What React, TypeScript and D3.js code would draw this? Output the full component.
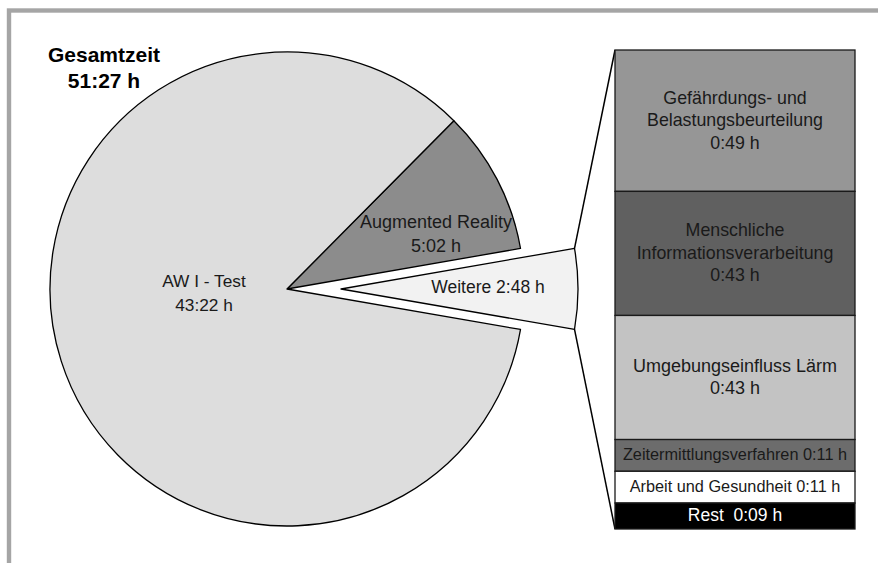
import React from "react";
import * as d3 from "d3";

// main pie (minutes)
const pieLabels = ["Augmented Reality", "Weitere", "AW I - Test"];
const pieMinutes = [302, 168, 2602];
const pieTimes = ["5:02 h", "2:48 h", "43:22 h"];
const pieColors = ["#8c8c8c", "#f2f2f2", "#dddddd"];

// breakdown of "Weitere" (minutes)
const barLabels = [
	["Gefährdungs- und", "Belastungsbeurteilung"],
	["Menschliche", "Informationsverarbeitung"],
	["Umgebungseinfluss Lärm"],
	["Zeitermittlungsverfahren"],
	["Arbeit und Gesundheit"],
	["Rest "],
];
const barMinutes = [49, 43, 43, 11, 11, 9];
const barTimes = ["0:49 h", "0:43 h", "0:43 h", "0:11 h", "0:11 h", "0:09 h"];
const barColors = ["#969696", "#606060", "#c3c3c3", "#6c6c6c", "#ffffff", "#000000"];
const barTextColors = ["#1a1a1a", "#1a1a1a", "#1a1a1a", "#1a1a1a", "#1a1a1a", "#ffffff"];
const barInline = [false, false, false, true, true, true];
const barFontSizes = [17.8, 17.8, 18, 16.3, 16.3, 17.5];

const W = 878;
const H = 563;
const cx = 287;
const cy = 289;
const R = 237;
const explode = 54;
const barX0 = 615;
const barX1 = 855;
const barY0 = 50;
const barY1 = 529;
const font = "'Liberation Sans', Arial, sans-serif";

// label offsets from the pie centre (or exploded centre)
const labelOffsets = [
	{dx: 149, dy: -61},
	{dx: 147, dy: 4},
	{dx: -83, dy: -2},
];

const App: React.FC = () => {
	const startAngle = (44.75 * Math.PI) / 180;
	const pie = d3
		.pie<number>()
		.value((d) => d)
		.sort(null)
		.startAngle(startAngle)
		.endAngle(startAngle + 2 * Math.PI);
	const arcs = pie(pieMinutes);
	const arc = d3.arc<d3.PieArcDatum<number>>().innerRadius(0).outerRadius(R);

	const wArc = arcs[1];
	const mid = (wArc.startAngle + wArc.endAngle) / 2;
	const wx = cx + explode * Math.sin(mid);
	const wy = cy - explode * Math.cos(mid);
	const topPt = [wx + R * Math.sin(wArc.startAngle), wy - R * Math.cos(wArc.startAngle)];
	const botPt = [wx + R * Math.sin(wArc.endAngle), wy - R * Math.cos(wArc.endAngle)];

	const y = d3
		.scaleLinear()
		.domain([0, d3.sum(barMinutes)])
		.range([barY0, barY1]);
	let acc = 0;
	const segs = barMinutes.map((m, i) => {
		const s = {i, y0: y(acc), y1: y(acc + m)};
		acc += m;
		return s;
	});

	return (
		<svg
			width={W}
			height={H}
			style={{position: "absolute", left: 0, top: 0, background: "#fff"}}
			fontFamily={font}
		>
			<rect x={9} y={10.5} width={1200} height={1200} fill="none" stroke="#a5a5a5" strokeWidth={4.4} />

			<text textAnchor="middle" fontWeight="bold" fontSize={21} fill="#000">
				<tspan x={104} y={62}>Gesamtzeit</tspan>
				<tspan x={104} y={88}>51:27 h</tspan>
			</text>

			{arcs.map((a, i) => {
				const isW = i === 1;
				return (
					<path
						key={i}
						d={arc(a) || ""}
						transform={`translate(${isW ? wx : cx},${isW ? wy : cy})`}
						fill={pieColors[i]}
						stroke="#000"
						strokeWidth={1.3}
						strokeLinejoin="round"
					/>
				);
			})}

			{arcs.map((a, i) => {
				const isW = i === 1;
				const ox = (isW ? wx : cx) + labelOffsets[i].dx;
				const oy = (isW ? wy : cy) + labelOffsets[i].dy;
				if (isW) {
					return (
						<text key={i} x={ox} y={oy} textAnchor="middle" fontSize={17.5} fill="#1a1a1a">
							{`${pieLabels[i]} ${pieTimes[i]}`}
						</text>
					);
				}
				return (
					<text key={i} textAnchor="middle" fontSize={i === 0 ? 18 : 17.3} fill="#1a1a1a">
						<tspan x={ox} y={oy}>{pieLabels[i]}</tspan>
						<tspan x={ox} y={oy + 24}>{pieTimes[i]}</tspan>
					</text>
				);
			})}

			<line x1={topPt[0]} y1={topPt[1]} x2={barX0} y2={barY0} stroke="#000" strokeWidth={1.5} />
			<line x1={botPt[0]} y1={botPt[1]} x2={barX0} y2={barY1} stroke="#000" strokeWidth={1.5} />

			{segs.map((s) => (
				<rect
					key={s.i}
					x={barX0}
					y={s.y0}
					width={barX1 - barX0}
					height={s.y1 - s.y0}
					fill={barColors[s.i]}
					stroke="#1a1a1a"
					strokeWidth={1.3}
				/>
			))}

			{segs.map((s) => {
				const midY = (s.y0 + s.y1) / 2;
				const tx = (barX0 + barX1) / 2;
				if (barInline[s.i]) {
					return (
						<text
							key={s.i}
							x={tx}
							y={midY + 5}
							textAnchor="middle"
							fontSize={barFontSizes[s.i]}
							fill={barTextColors[s.i]}
							style={{whiteSpace: "pre"}}
						>
							{`${barLabels[s.i].join(" ")} ${barTimes[s.i]}`}
						</text>
					);
				}
				const lines = [...barLabels[s.i], barTimes[s.i]];
				const lh = 22.5;
				return (
					<text key={s.i} textAnchor="middle" fontSize={barFontSizes[s.i]} fill={barTextColors[s.i]}>
						{lines.map((l, j) => (
							<tspan key={j} x={tx} y={midY + 5.5 + (j - (lines.length - 1) / 2) * lh}>
								{l}
							</tspan>
						))}
					</text>
				);
			})}
		</svg>
	);
};

export default App;
